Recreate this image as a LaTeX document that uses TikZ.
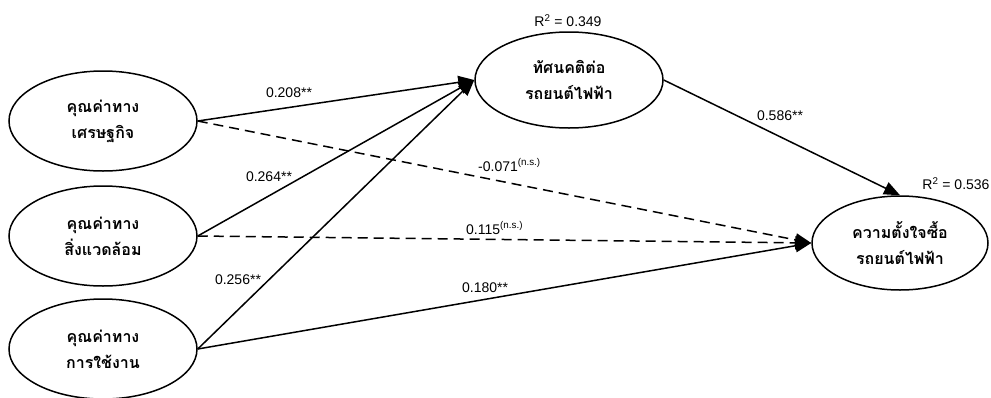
\documentclass[tikz,border=0pt]{standalone}
\usepackage{fontspec}
\setmainfont{Liberation Sans}
\newfontfamily\thaifont[Script=Thai]{Loma}
\usetikzlibrary{shapes.geometric,arrows.meta}
\begin{document}
\begin{tikzpicture}[x=1pt,y=-1pt,
  construct/.style={ellipse, draw, line width=1.5pt, inner sep=0pt,
    minimum width=188pt, minimum height=100pt, align=center,
    font=\thaifont\bfseries\fontsize{16}{26}\selectfont},
  link/.style={line width=1.5pt, -{Triangle[length=16pt,width=13pt]}},
  nslink/.style={link, dash pattern=on 10pt off 6pt},
  coef/.style={font=\fontsize{14}{16}\selectfont, inner sep=0pt}
]
\useasboundingbox (0,0) rectangle (991,397);
% constructs
\node[construct] (eco) at (103,121) {คุณค่าทาง\\เศรษฐกิจ};
\node[construct] (env) at (103,236) {คุณค่าทาง\\สิ่งแวดล้อม};
\node[construct] (use) at (103,349) {คุณค่าทาง\\การใช้งาน};
\node[construct, minimum height=96pt] (att) at (569,80) {ทัศนคติต่อ\\รถยนต์ไฟฟ้า};
\node[construct, minimum width=176pt, minimum height=94pt] (int) at (900,243) {ความตั้งใจซื้อ\\รถยนต์ไฟฟ้า};
% R squared
\node[coef] (r1) at (568,21) {R\textsuperscript{2} = 0.349};
\node[coef] (r2) at (956,184) {R\textsuperscript{2} = 0.536};
% paths
\draw[link] (eco.east) -- (att.west);
\draw[link] (env.east) -- (att.west);
\draw[link] (use.east) -- (att.west);
\draw[nslink] (eco.east) -- (int.west);
\draw[nslink] (env.east) -- (int.west);
\draw[link] (use.east) -- (int.west);
\draw[link] (att.east) -- (int.north);
% coefficients
\node[coef] (c1) at (289,93) {0.208**};
\node[coef] (c2) at (269,177) {0.264**};
\node[coef] (c3) at (238,280) {0.256**};
\node[coef, anchor=west] (c4) at (478,165) {-0.071\textsuperscript{(n.s.)}};
\node[coef, anchor=west] (c5) at (466,228) {0.115\textsuperscript{(n.s.)}};
\node[coef, anchor=west] (c6) at (462,288) {0.180**};
\node[coef] (c7) at (780,116) {0.586**};
\end{tikzpicture}
\end{document}
